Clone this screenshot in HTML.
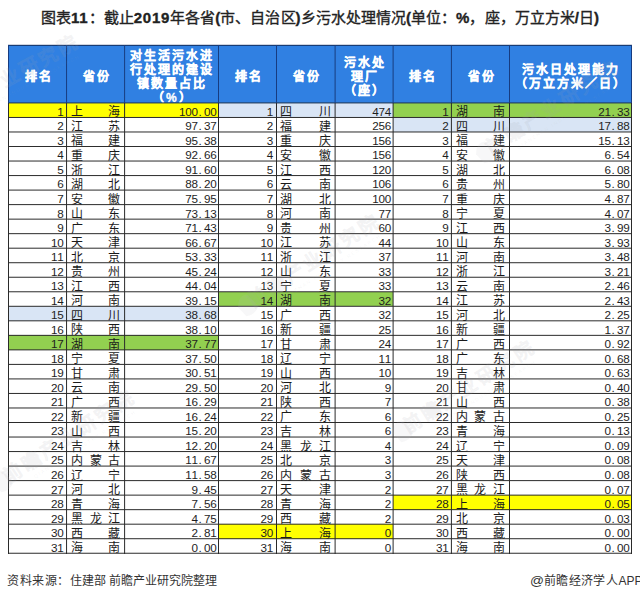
<!DOCTYPE html>
<html lang="zh-CN"><head><meta charset="utf-8">
<style>
html,body{margin:0;padding:0;background:#fff;width:640px;height:599px;overflow:hidden;position:relative;font-family:"Liberation Sans",sans-serif;}
.a{position:absolute;}
.hl{position:absolute;height:1px;background:#2e2e2e;}
.vl{position:absolute;width:1px;background:#2e2e2e;}
.t{position:absolute;font-size:12px;font-weight:400;line-height:14px;color:#1a1a1a;white-space:nowrap;}
.n{position:absolute;font-size:11.7px;line-height:12px;color:#1e1e1e;white-space:nowrap;text-align:right;}
.n i{font-style:normal;display:inline-block;width:6.25px;text-align:left;}
.n i.p{text-indent:0.8px;}
.h{position:absolute;font-size:12px;font-weight:bold;-webkit-text-stroke:0.3px #fff;color:#fff;line-height:14px;letter-spacing:2px;text-align:center;white-space:nowrap;}
</style></head><body>

<div class="a" style="left:0;top:8px;width:640px;text-align:center;font-size:15px;letter-spacing:0.04px;font-weight:500;-webkit-text-stroke:0.35px #222;color:#222;line-height:20px;white-space:nowrap;">图表<b style="letter-spacing:0.8px">11</b>：截止<b style="letter-spacing:0.8px">2019</b>年各省<b>(</b>市、自治区<b>)</b>乡污水处理情况<b>(</b>单位：<b>%</b>，座，万立方米<b>/</b>日<b>)</b></div>
<div class="a" style="left:8.6px;top:45.3px;width:622.8px;height:57.63000000000001px;background:#3080e2;"></div>
<div class="a" style="left:8.6px;top:102.93px;width:209.90px;height:14.53px;background:#ffff00;"></div>
<div class="a" style="left:8.6px;top:306.29px;width:209.90px;height:14.53px;background:#d9e5f5;"></div>
<div class="a" style="left:8.6px;top:335.35px;width:209.90px;height:14.53px;background:#92d050;"></div>
<div class="a" style="left:218.5px;top:102.93px;width:174.60px;height:14.53px;background:#d9e5f5;"></div>
<div class="a" style="left:218.5px;top:291.77px;width:174.60px;height:14.53px;background:#92d050;"></div>
<div class="a" style="left:218.5px;top:524.18px;width:174.60px;height:14.53px;background:#ffff00;"></div>
<div class="a" style="left:393.1px;top:102.93px;width:238.30px;height:14.53px;background:#92d050;"></div>
<div class="a" style="left:393.1px;top:117.46px;width:238.30px;height:14.53px;background:#d9e5f5;"></div>
<div class="a" style="left:393.1px;top:495.13px;width:238.30px;height:14.53px;background:#ffff00;"></div>
<div class="h" style="left:8.6px;width:58.300000000000004px;top:69.7px;text-indent:2px">排名</div>
<div class="h" style="left:66.9px;width:57.5px;top:69.7px;text-indent:2px">省份</div>
<div class="h" style="left:218.5px;width:58.0px;top:69.7px;text-indent:2px">排名</div>
<div class="h" style="left:276.5px;width:58.5px;top:69.7px;text-indent:2px">省份</div>
<div class="h" style="left:393.1px;width:58.799999999999955px;top:69.7px;text-indent:2px">排名</div>
<div class="h" style="left:451.9px;width:57.5px;top:69.7px;text-indent:2px">省份</div>
<div class="h" style="left:124.4px;width:94.1px;top:49px;text-indent:2px">对生活污水进</div>
<div class="h" style="left:124.4px;width:94.1px;top:63px;text-indent:2px">行处理的建设</div>
<div class="h" style="left:124.4px;width:94.1px;top:77px;text-indent:2px">镇数量占比</div>
<div class="h" style="left:124.4px;width:94.1px;top:91px;text-indent:2px">（%）</div>
<div class="h" style="left:335.0px;width:58.10000000000002px;top:55.5px;text-indent:2px">污水处</div>
<div class="h" style="left:335.0px;width:58.10000000000002px;top:69.5px;text-indent:2px">理厂</div>
<div class="h" style="left:335.0px;width:58.10000000000002px;top:83.5px;text-indent:2px">（座）</div>
<div class="h" style="left:509.4px;width:122.0px;top:63px;text-indent:2px">污水日处理能力</div>
<div class="h" style="left:509.4px;width:122.0px;top:77px;text-indent:2px">（万立方米／日）</div>
<div class="n" style="left:8.6px;width:54.8px;top:105.83px;"><i>1</i></div>
<div class="t" style="left:70.7px;top:105.43px;">上</div>
<div class="t" style="left:108.2px;top:105.43px;">海</div>
<div class="n" style="left:124.4px;width:92.1px;top:105.83px;"><i>1</i><i>0</i><i>0</i><i class="p">.</i><i>0</i><i>0</i></div>
<div class="n" style="left:8.6px;width:54.8px;top:120.36px;"><i>2</i></div>
<div class="t" style="left:70.7px;top:119.96px;">江</div>
<div class="t" style="left:108.2px;top:119.96px;">苏</div>
<div class="n" style="left:124.4px;width:92.1px;top:120.36px;"><i>9</i><i>7</i><i class="p">.</i><i>3</i><i>7</i></div>
<div class="n" style="left:8.6px;width:54.8px;top:134.88px;"><i>3</i></div>
<div class="t" style="left:70.7px;top:134.48px;">福</div>
<div class="t" style="left:108.2px;top:134.48px;">建</div>
<div class="n" style="left:124.4px;width:92.1px;top:134.88px;"><i>9</i><i>5</i><i class="p">.</i><i>3</i><i>8</i></div>
<div class="n" style="left:8.6px;width:54.8px;top:149.41px;"><i>4</i></div>
<div class="t" style="left:70.7px;top:149.01px;">重</div>
<div class="t" style="left:108.2px;top:149.01px;">庆</div>
<div class="n" style="left:124.4px;width:92.1px;top:149.41px;"><i>9</i><i>2</i><i class="p">.</i><i>6</i><i>6</i></div>
<div class="n" style="left:8.6px;width:54.8px;top:163.93px;"><i>5</i></div>
<div class="t" style="left:70.7px;top:163.53px;">浙</div>
<div class="t" style="left:108.2px;top:163.53px;">江</div>
<div class="n" style="left:124.4px;width:92.1px;top:163.93px;"><i>9</i><i>1</i><i class="p">.</i><i>6</i><i>0</i></div>
<div class="n" style="left:8.6px;width:54.8px;top:178.46px;"><i>6</i></div>
<div class="t" style="left:70.7px;top:178.06px;">湖</div>
<div class="t" style="left:108.2px;top:178.06px;">北</div>
<div class="n" style="left:124.4px;width:92.1px;top:178.46px;"><i>8</i><i>8</i><i class="p">.</i><i>2</i><i>0</i></div>
<div class="n" style="left:8.6px;width:54.8px;top:192.99px;"><i>7</i></div>
<div class="t" style="left:70.7px;top:192.59px;">安</div>
<div class="t" style="left:108.2px;top:192.59px;">徽</div>
<div class="n" style="left:124.4px;width:92.1px;top:192.99px;"><i>7</i><i>5</i><i class="p">.</i><i>9</i><i>5</i></div>
<div class="n" style="left:8.6px;width:54.8px;top:207.51px;"><i>8</i></div>
<div class="t" style="left:70.7px;top:207.11px;">山</div>
<div class="t" style="left:108.2px;top:207.11px;">东</div>
<div class="n" style="left:124.4px;width:92.1px;top:207.51px;"><i>7</i><i>3</i><i class="p">.</i><i>1</i><i>3</i></div>
<div class="n" style="left:8.6px;width:54.8px;top:222.04px;"><i>9</i></div>
<div class="t" style="left:70.7px;top:221.64px;">广</div>
<div class="t" style="left:108.2px;top:221.64px;">东</div>
<div class="n" style="left:124.4px;width:92.1px;top:222.04px;"><i>7</i><i>1</i><i class="p">.</i><i>4</i><i>3</i></div>
<div class="n" style="left:8.6px;width:54.8px;top:236.56px;"><i>1</i><i>0</i></div>
<div class="t" style="left:70.7px;top:236.16px;">天</div>
<div class="t" style="left:108.2px;top:236.16px;">津</div>
<div class="n" style="left:124.4px;width:92.1px;top:236.56px;"><i>6</i><i>6</i><i class="p">.</i><i>6</i><i>7</i></div>
<div class="n" style="left:8.6px;width:54.8px;top:251.09px;"><i>1</i><i>1</i></div>
<div class="t" style="left:70.7px;top:250.69px;">北</div>
<div class="t" style="left:108.2px;top:250.69px;">京</div>
<div class="n" style="left:124.4px;width:92.1px;top:251.09px;"><i>5</i><i>3</i><i class="p">.</i><i>3</i><i>3</i></div>
<div class="n" style="left:8.6px;width:54.8px;top:265.62px;"><i>1</i><i>2</i></div>
<div class="t" style="left:70.7px;top:265.22px;">贵</div>
<div class="t" style="left:108.2px;top:265.22px;">州</div>
<div class="n" style="left:124.4px;width:92.1px;top:265.62px;"><i>4</i><i>5</i><i class="p">.</i><i>2</i><i>4</i></div>
<div class="n" style="left:8.6px;width:54.8px;top:280.14px;"><i>1</i><i>3</i></div>
<div class="t" style="left:70.7px;top:279.74px;">江</div>
<div class="t" style="left:108.2px;top:279.74px;">西</div>
<div class="n" style="left:124.4px;width:92.1px;top:280.14px;"><i>4</i><i>4</i><i class="p">.</i><i>0</i><i>4</i></div>
<div class="n" style="left:8.6px;width:54.8px;top:294.67px;"><i>1</i><i>4</i></div>
<div class="t" style="left:70.7px;top:294.27px;">河</div>
<div class="t" style="left:108.2px;top:294.27px;">南</div>
<div class="n" style="left:124.4px;width:92.1px;top:294.67px;"><i>3</i><i>9</i><i class="p">.</i><i>1</i><i>5</i></div>
<div class="n" style="left:8.6px;width:54.8px;top:309.19px;"><i>1</i><i>5</i></div>
<div class="t" style="left:70.7px;top:308.79px;">四</div>
<div class="t" style="left:108.2px;top:308.79px;">川</div>
<div class="n" style="left:124.4px;width:92.1px;top:309.19px;"><i>3</i><i>8</i><i class="p">.</i><i>6</i><i>8</i></div>
<div class="n" style="left:8.6px;width:54.8px;top:323.72px;"><i>1</i><i>6</i></div>
<div class="t" style="left:70.7px;top:323.32px;">陕</div>
<div class="t" style="left:108.2px;top:323.32px;">西</div>
<div class="n" style="left:124.4px;width:92.1px;top:323.72px;"><i>3</i><i>8</i><i class="p">.</i><i>1</i><i>0</i></div>
<div class="n" style="left:8.6px;width:54.8px;top:338.25px;"><i>1</i><i>7</i></div>
<div class="t" style="left:70.7px;top:337.85px;">湖</div>
<div class="t" style="left:108.2px;top:337.85px;">南</div>
<div class="n" style="left:124.4px;width:92.1px;top:338.25px;"><i>3</i><i>7</i><i class="p">.</i><i>7</i><i>7</i></div>
<div class="n" style="left:8.6px;width:54.8px;top:352.77px;"><i>1</i><i>8</i></div>
<div class="t" style="left:70.7px;top:352.37px;">宁</div>
<div class="t" style="left:108.2px;top:352.37px;">夏</div>
<div class="n" style="left:124.4px;width:92.1px;top:352.77px;"><i>3</i><i>7</i><i class="p">.</i><i>5</i><i>0</i></div>
<div class="n" style="left:8.6px;width:54.8px;top:367.30px;"><i>1</i><i>9</i></div>
<div class="t" style="left:70.7px;top:366.90px;">甘</div>
<div class="t" style="left:108.2px;top:366.90px;">肃</div>
<div class="n" style="left:124.4px;width:92.1px;top:367.30px;"><i>3</i><i>0</i><i class="p">.</i><i>5</i><i>1</i></div>
<div class="n" style="left:8.6px;width:54.8px;top:381.82px;"><i>2</i><i>0</i></div>
<div class="t" style="left:70.7px;top:381.42px;">云</div>
<div class="t" style="left:108.2px;top:381.42px;">南</div>
<div class="n" style="left:124.4px;width:92.1px;top:381.82px;"><i>2</i><i>9</i><i class="p">.</i><i>5</i><i>0</i></div>
<div class="n" style="left:8.6px;width:54.8px;top:396.35px;"><i>2</i><i>1</i></div>
<div class="t" style="left:70.7px;top:395.95px;">广</div>
<div class="t" style="left:108.2px;top:395.95px;">西</div>
<div class="n" style="left:124.4px;width:92.1px;top:396.35px;"><i>1</i><i>6</i><i class="p">.</i><i>2</i><i>9</i></div>
<div class="n" style="left:8.6px;width:54.8px;top:410.88px;"><i>2</i><i>2</i></div>
<div class="t" style="left:70.7px;top:410.48px;">新</div>
<div class="t" style="left:108.2px;top:410.48px;">疆</div>
<div class="n" style="left:124.4px;width:92.1px;top:410.88px;"><i>1</i><i>6</i><i class="p">.</i><i>2</i><i>4</i></div>
<div class="n" style="left:8.6px;width:54.8px;top:425.40px;"><i>2</i><i>3</i></div>
<div class="t" style="left:70.7px;top:425.00px;">山</div>
<div class="t" style="left:108.2px;top:425.00px;">西</div>
<div class="n" style="left:124.4px;width:92.1px;top:425.40px;"><i>1</i><i>5</i><i class="p">.</i><i>2</i><i>0</i></div>
<div class="n" style="left:8.6px;width:54.8px;top:439.93px;"><i>2</i><i>4</i></div>
<div class="t" style="left:70.7px;top:439.53px;">吉</div>
<div class="t" style="left:108.2px;top:439.53px;">林</div>
<div class="n" style="left:124.4px;width:92.1px;top:439.93px;"><i>1</i><i>2</i><i class="p">.</i><i>2</i><i>0</i></div>
<div class="n" style="left:8.6px;width:54.8px;top:454.45px;"><i>2</i><i>5</i></div>
<div class="t" style="left:70.7px;top:454.05px;">内</div>
<div class="t" style="left:89.5px;top:454.05px;">蒙</div>
<div class="t" style="left:108.2px;top:454.05px;">古</div>
<div class="n" style="left:124.4px;width:92.1px;top:454.45px;"><i>1</i><i>1</i><i class="p">.</i><i>6</i><i>7</i></div>
<div class="n" style="left:8.6px;width:54.8px;top:468.98px;"><i>2</i><i>6</i></div>
<div class="t" style="left:70.7px;top:468.58px;">辽</div>
<div class="t" style="left:108.2px;top:468.58px;">宁</div>
<div class="n" style="left:124.4px;width:92.1px;top:468.98px;"><i>1</i><i>1</i><i class="p">.</i><i>5</i><i>8</i></div>
<div class="n" style="left:8.6px;width:54.8px;top:483.51px;"><i>2</i><i>7</i></div>
<div class="t" style="left:70.7px;top:483.11px;">河</div>
<div class="t" style="left:108.2px;top:483.11px;">北</div>
<div class="n" style="left:124.4px;width:92.1px;top:483.51px;"><i>9</i><i class="p">.</i><i>4</i><i>5</i></div>
<div class="n" style="left:8.6px;width:54.8px;top:498.03px;"><i>2</i><i>8</i></div>
<div class="t" style="left:70.7px;top:497.63px;">青</div>
<div class="t" style="left:108.2px;top:497.63px;">海</div>
<div class="n" style="left:124.4px;width:92.1px;top:498.03px;"><i>7</i><i class="p">.</i><i>5</i><i>6</i></div>
<div class="n" style="left:8.6px;width:54.8px;top:512.56px;"><i>2</i><i>9</i></div>
<div class="t" style="left:70.7px;top:512.16px;">黑</div>
<div class="t" style="left:89.5px;top:512.16px;">龙</div>
<div class="t" style="left:108.2px;top:512.16px;">江</div>
<div class="n" style="left:124.4px;width:92.1px;top:512.56px;"><i>4</i><i class="p">.</i><i>7</i><i>5</i></div>
<div class="n" style="left:8.6px;width:54.8px;top:527.08px;"><i>3</i><i>0</i></div>
<div class="t" style="left:70.7px;top:526.68px;">西</div>
<div class="t" style="left:108.2px;top:526.68px;">藏</div>
<div class="n" style="left:124.4px;width:92.1px;top:527.08px;"><i>2</i><i class="p">.</i><i>8</i><i>1</i></div>
<div class="n" style="left:8.6px;width:54.8px;top:541.61px;"><i>3</i><i>1</i></div>
<div class="t" style="left:70.7px;top:541.21px;">海</div>
<div class="t" style="left:108.2px;top:541.21px;">南</div>
<div class="n" style="left:124.4px;width:92.1px;top:541.61px;"><i>0</i><i class="p">.</i><i>0</i><i>0</i></div>
<div class="n" style="left:218.5px;width:54.5px;top:105.83px;"><i>1</i></div>
<div class="t" style="left:280.3px;top:105.43px;">四</div>
<div class="t" style="left:318.8px;top:105.43px;">川</div>
<div class="n" style="left:335.0px;width:56.1px;top:105.83px;"><i>4</i><i>7</i><i>4</i></div>
<div class="n" style="left:218.5px;width:54.5px;top:120.36px;"><i>2</i></div>
<div class="t" style="left:280.3px;top:119.96px;">福</div>
<div class="t" style="left:318.8px;top:119.96px;">建</div>
<div class="n" style="left:335.0px;width:56.1px;top:120.36px;"><i>2</i><i>5</i><i>6</i></div>
<div class="n" style="left:218.5px;width:54.5px;top:134.88px;"><i>3</i></div>
<div class="t" style="left:280.3px;top:134.48px;">重</div>
<div class="t" style="left:318.8px;top:134.48px;">庆</div>
<div class="n" style="left:335.0px;width:56.1px;top:134.88px;"><i>1</i><i>5</i><i>6</i></div>
<div class="n" style="left:218.5px;width:54.5px;top:149.41px;"><i>4</i></div>
<div class="t" style="left:280.3px;top:149.01px;">安</div>
<div class="t" style="left:318.8px;top:149.01px;">徽</div>
<div class="n" style="left:335.0px;width:56.1px;top:149.41px;"><i>1</i><i>5</i><i>6</i></div>
<div class="n" style="left:218.5px;width:54.5px;top:163.93px;"><i>5</i></div>
<div class="t" style="left:280.3px;top:163.53px;">江</div>
<div class="t" style="left:318.8px;top:163.53px;">西</div>
<div class="n" style="left:335.0px;width:56.1px;top:163.93px;"><i>1</i><i>2</i><i>0</i></div>
<div class="n" style="left:218.5px;width:54.5px;top:178.46px;"><i>6</i></div>
<div class="t" style="left:280.3px;top:178.06px;">云</div>
<div class="t" style="left:318.8px;top:178.06px;">南</div>
<div class="n" style="left:335.0px;width:56.1px;top:178.46px;"><i>1</i><i>0</i><i>6</i></div>
<div class="n" style="left:218.5px;width:54.5px;top:192.99px;"><i>7</i></div>
<div class="t" style="left:280.3px;top:192.59px;">湖</div>
<div class="t" style="left:318.8px;top:192.59px;">北</div>
<div class="n" style="left:335.0px;width:56.1px;top:192.99px;"><i>1</i><i>0</i><i>0</i></div>
<div class="n" style="left:218.5px;width:54.5px;top:207.51px;"><i>8</i></div>
<div class="t" style="left:280.3px;top:207.11px;">河</div>
<div class="t" style="left:318.8px;top:207.11px;">南</div>
<div class="n" style="left:335.0px;width:56.1px;top:207.51px;"><i>7</i><i>7</i></div>
<div class="n" style="left:218.5px;width:54.5px;top:222.04px;"><i>9</i></div>
<div class="t" style="left:280.3px;top:221.64px;">贵</div>
<div class="t" style="left:318.8px;top:221.64px;">州</div>
<div class="n" style="left:335.0px;width:56.1px;top:222.04px;"><i>6</i><i>0</i></div>
<div class="n" style="left:218.5px;width:54.5px;top:236.56px;"><i>1</i><i>0</i></div>
<div class="t" style="left:280.3px;top:236.16px;">江</div>
<div class="t" style="left:318.8px;top:236.16px;">苏</div>
<div class="n" style="left:335.0px;width:56.1px;top:236.56px;"><i>4</i><i>4</i></div>
<div class="n" style="left:218.5px;width:54.5px;top:251.09px;"><i>1</i><i>1</i></div>
<div class="t" style="left:280.3px;top:250.69px;">浙</div>
<div class="t" style="left:318.8px;top:250.69px;">江</div>
<div class="n" style="left:335.0px;width:56.1px;top:251.09px;"><i>3</i><i>7</i></div>
<div class="n" style="left:218.5px;width:54.5px;top:265.62px;"><i>1</i><i>2</i></div>
<div class="t" style="left:280.3px;top:265.22px;">山</div>
<div class="t" style="left:318.8px;top:265.22px;">东</div>
<div class="n" style="left:335.0px;width:56.1px;top:265.62px;"><i>3</i><i>3</i></div>
<div class="n" style="left:218.5px;width:54.5px;top:280.14px;"><i>1</i><i>3</i></div>
<div class="t" style="left:280.3px;top:279.74px;">宁</div>
<div class="t" style="left:318.8px;top:279.74px;">夏</div>
<div class="n" style="left:335.0px;width:56.1px;top:280.14px;"><i>3</i><i>3</i></div>
<div class="n" style="left:218.5px;width:54.5px;top:294.67px;"><i>1</i><i>4</i></div>
<div class="t" style="left:280.3px;top:294.27px;">湖</div>
<div class="t" style="left:318.8px;top:294.27px;">南</div>
<div class="n" style="left:335.0px;width:56.1px;top:294.67px;"><i>3</i><i>2</i></div>
<div class="n" style="left:218.5px;width:54.5px;top:309.19px;"><i>1</i><i>5</i></div>
<div class="t" style="left:280.3px;top:308.79px;">广</div>
<div class="t" style="left:318.8px;top:308.79px;">西</div>
<div class="n" style="left:335.0px;width:56.1px;top:309.19px;"><i>3</i><i>2</i></div>
<div class="n" style="left:218.5px;width:54.5px;top:323.72px;"><i>1</i><i>6</i></div>
<div class="t" style="left:280.3px;top:323.32px;">新</div>
<div class="t" style="left:318.8px;top:323.32px;">疆</div>
<div class="n" style="left:335.0px;width:56.1px;top:323.72px;"><i>2</i><i>5</i></div>
<div class="n" style="left:218.5px;width:54.5px;top:338.25px;"><i>1</i><i>7</i></div>
<div class="t" style="left:280.3px;top:337.85px;">甘</div>
<div class="t" style="left:318.8px;top:337.85px;">肃</div>
<div class="n" style="left:335.0px;width:56.1px;top:338.25px;"><i>2</i><i>4</i></div>
<div class="n" style="left:218.5px;width:54.5px;top:352.77px;"><i>1</i><i>8</i></div>
<div class="t" style="left:280.3px;top:352.37px;">辽</div>
<div class="t" style="left:318.8px;top:352.37px;">宁</div>
<div class="n" style="left:335.0px;width:56.1px;top:352.77px;"><i>1</i><i>1</i></div>
<div class="n" style="left:218.5px;width:54.5px;top:367.30px;"><i>1</i><i>9</i></div>
<div class="t" style="left:280.3px;top:366.90px;">山</div>
<div class="t" style="left:318.8px;top:366.90px;">西</div>
<div class="n" style="left:335.0px;width:56.1px;top:367.30px;"><i>1</i><i>0</i></div>
<div class="n" style="left:218.5px;width:54.5px;top:381.82px;"><i>2</i><i>0</i></div>
<div class="t" style="left:280.3px;top:381.42px;">河</div>
<div class="t" style="left:318.8px;top:381.42px;">北</div>
<div class="n" style="left:335.0px;width:56.1px;top:381.82px;"><i>9</i></div>
<div class="n" style="left:218.5px;width:54.5px;top:396.35px;"><i>2</i><i>1</i></div>
<div class="t" style="left:280.3px;top:395.95px;">陕</div>
<div class="t" style="left:318.8px;top:395.95px;">西</div>
<div class="n" style="left:335.0px;width:56.1px;top:396.35px;"><i>7</i></div>
<div class="n" style="left:218.5px;width:54.5px;top:410.88px;"><i>2</i><i>2</i></div>
<div class="t" style="left:280.3px;top:410.48px;">广</div>
<div class="t" style="left:318.8px;top:410.48px;">东</div>
<div class="n" style="left:335.0px;width:56.1px;top:410.88px;"><i>6</i></div>
<div class="n" style="left:218.5px;width:54.5px;top:425.40px;"><i>2</i><i>3</i></div>
<div class="t" style="left:280.3px;top:425.00px;">吉</div>
<div class="t" style="left:318.8px;top:425.00px;">林</div>
<div class="n" style="left:335.0px;width:56.1px;top:425.40px;"><i>6</i></div>
<div class="n" style="left:218.5px;width:54.5px;top:439.93px;"><i>2</i><i>4</i></div>
<div class="t" style="left:280.3px;top:439.53px;">黑</div>
<div class="t" style="left:299.6px;top:439.53px;">龙</div>
<div class="t" style="left:318.8px;top:439.53px;">江</div>
<div class="n" style="left:335.0px;width:56.1px;top:439.93px;"><i>4</i></div>
<div class="n" style="left:218.5px;width:54.5px;top:454.45px;"><i>2</i><i>5</i></div>
<div class="t" style="left:280.3px;top:454.05px;">北</div>
<div class="t" style="left:318.8px;top:454.05px;">京</div>
<div class="n" style="left:335.0px;width:56.1px;top:454.45px;"><i>3</i></div>
<div class="n" style="left:218.5px;width:54.5px;top:468.98px;"><i>2</i><i>6</i></div>
<div class="t" style="left:280.3px;top:468.58px;">内</div>
<div class="t" style="left:299.6px;top:468.58px;">蒙</div>
<div class="t" style="left:318.8px;top:468.58px;">古</div>
<div class="n" style="left:335.0px;width:56.1px;top:468.98px;"><i>3</i></div>
<div class="n" style="left:218.5px;width:54.5px;top:483.51px;"><i>2</i><i>7</i></div>
<div class="t" style="left:280.3px;top:483.11px;">天</div>
<div class="t" style="left:318.8px;top:483.11px;">津</div>
<div class="n" style="left:335.0px;width:56.1px;top:483.51px;"><i>2</i></div>
<div class="n" style="left:218.5px;width:54.5px;top:498.03px;"><i>2</i><i>8</i></div>
<div class="t" style="left:280.3px;top:497.63px;">青</div>
<div class="t" style="left:318.8px;top:497.63px;">海</div>
<div class="n" style="left:335.0px;width:56.1px;top:498.03px;"><i>2</i></div>
<div class="n" style="left:218.5px;width:54.5px;top:512.56px;"><i>2</i><i>9</i></div>
<div class="t" style="left:280.3px;top:512.16px;">西</div>
<div class="t" style="left:318.8px;top:512.16px;">藏</div>
<div class="n" style="left:335.0px;width:56.1px;top:512.56px;"><i>2</i></div>
<div class="n" style="left:218.5px;width:54.5px;top:527.08px;"><i>3</i><i>0</i></div>
<div class="t" style="left:280.3px;top:526.68px;">上</div>
<div class="t" style="left:318.8px;top:526.68px;">海</div>
<div class="n" style="left:335.0px;width:56.1px;top:527.08px;"><i>0</i></div>
<div class="n" style="left:218.5px;width:54.5px;top:541.61px;"><i>3</i><i>1</i></div>
<div class="t" style="left:280.3px;top:541.21px;">海</div>
<div class="t" style="left:318.8px;top:541.21px;">南</div>
<div class="n" style="left:335.0px;width:56.1px;top:541.61px;"><i>0</i></div>
<div class="n" style="left:393.1px;width:55.3px;top:105.83px;"><i>1</i></div>
<div class="t" style="left:455.7px;top:105.43px;">湖</div>
<div class="t" style="left:493.2px;top:105.43px;">南</div>
<div class="n" style="left:509.4px;width:120.0px;top:105.83px;"><i>2</i><i>1</i><i class="p">.</i><i>3</i><i>3</i></div>
<div class="n" style="left:393.1px;width:55.3px;top:120.36px;"><i>2</i></div>
<div class="t" style="left:455.7px;top:119.96px;">四</div>
<div class="t" style="left:493.2px;top:119.96px;">川</div>
<div class="n" style="left:509.4px;width:120.0px;top:120.36px;"><i>1</i><i>7</i><i class="p">.</i><i>8</i><i>8</i></div>
<div class="n" style="left:393.1px;width:55.3px;top:134.88px;"><i>3</i></div>
<div class="t" style="left:455.7px;top:134.48px;">福</div>
<div class="t" style="left:493.2px;top:134.48px;">建</div>
<div class="n" style="left:509.4px;width:120.0px;top:134.88px;"><i>1</i><i>5</i><i class="p">.</i><i>1</i><i>3</i></div>
<div class="n" style="left:393.1px;width:55.3px;top:149.41px;"><i>4</i></div>
<div class="t" style="left:455.7px;top:149.01px;">安</div>
<div class="t" style="left:493.2px;top:149.01px;">徽</div>
<div class="n" style="left:509.4px;width:120.0px;top:149.41px;"><i>6</i><i class="p">.</i><i>5</i><i>4</i></div>
<div class="n" style="left:393.1px;width:55.3px;top:163.93px;"><i>5</i></div>
<div class="t" style="left:455.7px;top:163.53px;">湖</div>
<div class="t" style="left:493.2px;top:163.53px;">北</div>
<div class="n" style="left:509.4px;width:120.0px;top:163.93px;"><i>6</i><i class="p">.</i><i>0</i><i>8</i></div>
<div class="n" style="left:393.1px;width:55.3px;top:178.46px;"><i>6</i></div>
<div class="t" style="left:455.7px;top:178.06px;">贵</div>
<div class="t" style="left:493.2px;top:178.06px;">州</div>
<div class="n" style="left:509.4px;width:120.0px;top:178.46px;"><i>5</i><i class="p">.</i><i>8</i><i>0</i></div>
<div class="n" style="left:393.1px;width:55.3px;top:192.99px;"><i>7</i></div>
<div class="t" style="left:455.7px;top:192.59px;">重</div>
<div class="t" style="left:493.2px;top:192.59px;">庆</div>
<div class="n" style="left:509.4px;width:120.0px;top:192.99px;"><i>4</i><i class="p">.</i><i>8</i><i>7</i></div>
<div class="n" style="left:393.1px;width:55.3px;top:207.51px;"><i>8</i></div>
<div class="t" style="left:455.7px;top:207.11px;">宁</div>
<div class="t" style="left:493.2px;top:207.11px;">夏</div>
<div class="n" style="left:509.4px;width:120.0px;top:207.51px;"><i>4</i><i class="p">.</i><i>0</i><i>7</i></div>
<div class="n" style="left:393.1px;width:55.3px;top:222.04px;"><i>9</i></div>
<div class="t" style="left:455.7px;top:221.64px;">江</div>
<div class="t" style="left:493.2px;top:221.64px;">西</div>
<div class="n" style="left:509.4px;width:120.0px;top:222.04px;"><i>3</i><i class="p">.</i><i>9</i><i>9</i></div>
<div class="n" style="left:393.1px;width:55.3px;top:236.56px;"><i>1</i><i>0</i></div>
<div class="t" style="left:455.7px;top:236.16px;">山</div>
<div class="t" style="left:493.2px;top:236.16px;">东</div>
<div class="n" style="left:509.4px;width:120.0px;top:236.56px;"><i>3</i><i class="p">.</i><i>9</i><i>3</i></div>
<div class="n" style="left:393.1px;width:55.3px;top:251.09px;"><i>1</i><i>1</i></div>
<div class="t" style="left:455.7px;top:250.69px;">河</div>
<div class="t" style="left:493.2px;top:250.69px;">南</div>
<div class="n" style="left:509.4px;width:120.0px;top:251.09px;"><i>3</i><i class="p">.</i><i>4</i><i>8</i></div>
<div class="n" style="left:393.1px;width:55.3px;top:265.62px;"><i>1</i><i>2</i></div>
<div class="t" style="left:455.7px;top:265.22px;">浙</div>
<div class="t" style="left:493.2px;top:265.22px;">江</div>
<div class="n" style="left:509.4px;width:120.0px;top:265.62px;"><i>3</i><i class="p">.</i><i>2</i><i>1</i></div>
<div class="n" style="left:393.1px;width:55.3px;top:280.14px;"><i>1</i><i>3</i></div>
<div class="t" style="left:455.7px;top:279.74px;">云</div>
<div class="t" style="left:493.2px;top:279.74px;">南</div>
<div class="n" style="left:509.4px;width:120.0px;top:280.14px;"><i>2</i><i class="p">.</i><i>4</i><i>6</i></div>
<div class="n" style="left:393.1px;width:55.3px;top:294.67px;"><i>1</i><i>4</i></div>
<div class="t" style="left:455.7px;top:294.27px;">江</div>
<div class="t" style="left:493.2px;top:294.27px;">苏</div>
<div class="n" style="left:509.4px;width:120.0px;top:294.67px;"><i>2</i><i class="p">.</i><i>4</i><i>3</i></div>
<div class="n" style="left:393.1px;width:55.3px;top:309.19px;"><i>1</i><i>5</i></div>
<div class="t" style="left:455.7px;top:308.79px;">河</div>
<div class="t" style="left:493.2px;top:308.79px;">北</div>
<div class="n" style="left:509.4px;width:120.0px;top:309.19px;"><i>2</i><i class="p">.</i><i>2</i><i>5</i></div>
<div class="n" style="left:393.1px;width:55.3px;top:323.72px;"><i>1</i><i>6</i></div>
<div class="t" style="left:455.7px;top:323.32px;">新</div>
<div class="t" style="left:493.2px;top:323.32px;">疆</div>
<div class="n" style="left:509.4px;width:120.0px;top:323.72px;"><i>1</i><i class="p">.</i><i>3</i><i>7</i></div>
<div class="n" style="left:393.1px;width:55.3px;top:338.25px;"><i>1</i><i>7</i></div>
<div class="t" style="left:455.7px;top:337.85px;">广</div>
<div class="t" style="left:493.2px;top:337.85px;">西</div>
<div class="n" style="left:509.4px;width:120.0px;top:338.25px;"><i>0</i><i class="p">.</i><i>9</i><i>2</i></div>
<div class="n" style="left:393.1px;width:55.3px;top:352.77px;"><i>1</i><i>8</i></div>
<div class="t" style="left:455.7px;top:352.37px;">广</div>
<div class="t" style="left:493.2px;top:352.37px;">东</div>
<div class="n" style="left:509.4px;width:120.0px;top:352.77px;"><i>0</i><i class="p">.</i><i>6</i><i>8</i></div>
<div class="n" style="left:393.1px;width:55.3px;top:367.30px;"><i>1</i><i>9</i></div>
<div class="t" style="left:455.7px;top:366.90px;">吉</div>
<div class="t" style="left:493.2px;top:366.90px;">林</div>
<div class="n" style="left:509.4px;width:120.0px;top:367.30px;"><i>0</i><i class="p">.</i><i>6</i><i>3</i></div>
<div class="n" style="left:393.1px;width:55.3px;top:381.82px;"><i>2</i><i>0</i></div>
<div class="t" style="left:455.7px;top:381.42px;">甘</div>
<div class="t" style="left:493.2px;top:381.42px;">肃</div>
<div class="n" style="left:509.4px;width:120.0px;top:381.82px;"><i>0</i><i class="p">.</i><i>4</i><i>0</i></div>
<div class="n" style="left:393.1px;width:55.3px;top:396.35px;"><i>2</i><i>1</i></div>
<div class="t" style="left:455.7px;top:395.95px;">山</div>
<div class="t" style="left:493.2px;top:395.95px;">西</div>
<div class="n" style="left:509.4px;width:120.0px;top:396.35px;"><i>0</i><i class="p">.</i><i>3</i><i>8</i></div>
<div class="n" style="left:393.1px;width:55.3px;top:410.88px;"><i>2</i><i>2</i></div>
<div class="t" style="left:455.7px;top:410.48px;">内</div>
<div class="t" style="left:474.4px;top:410.48px;">蒙</div>
<div class="t" style="left:493.2px;top:410.48px;">古</div>
<div class="n" style="left:509.4px;width:120.0px;top:410.88px;"><i>0</i><i class="p">.</i><i>2</i><i>5</i></div>
<div class="n" style="left:393.1px;width:55.3px;top:425.40px;"><i>2</i><i>3</i></div>
<div class="t" style="left:455.7px;top:425.00px;">青</div>
<div class="t" style="left:493.2px;top:425.00px;">海</div>
<div class="n" style="left:509.4px;width:120.0px;top:425.40px;"><i>0</i><i class="p">.</i><i>1</i><i>3</i></div>
<div class="n" style="left:393.1px;width:55.3px;top:439.93px;"><i>2</i><i>4</i></div>
<div class="t" style="left:455.7px;top:439.53px;">辽</div>
<div class="t" style="left:493.2px;top:439.53px;">宁</div>
<div class="n" style="left:509.4px;width:120.0px;top:439.93px;"><i>0</i><i class="p">.</i><i>0</i><i>9</i></div>
<div class="n" style="left:393.1px;width:55.3px;top:454.45px;"><i>2</i><i>5</i></div>
<div class="t" style="left:455.7px;top:454.05px;">天</div>
<div class="t" style="left:493.2px;top:454.05px;">津</div>
<div class="n" style="left:509.4px;width:120.0px;top:454.45px;"><i>0</i><i class="p">.</i><i>0</i><i>8</i></div>
<div class="n" style="left:393.1px;width:55.3px;top:468.98px;"><i>2</i><i>6</i></div>
<div class="t" style="left:455.7px;top:468.58px;">陕</div>
<div class="t" style="left:493.2px;top:468.58px;">西</div>
<div class="n" style="left:509.4px;width:120.0px;top:468.98px;"><i>0</i><i class="p">.</i><i>0</i><i>8</i></div>
<div class="n" style="left:393.1px;width:55.3px;top:483.51px;"><i>2</i><i>7</i></div>
<div class="t" style="left:455.7px;top:483.11px;">黑</div>
<div class="t" style="left:474.4px;top:483.11px;">龙</div>
<div class="t" style="left:493.2px;top:483.11px;">江</div>
<div class="n" style="left:509.4px;width:120.0px;top:483.51px;"><i>0</i><i class="p">.</i><i>0</i><i>7</i></div>
<div class="n" style="left:393.1px;width:55.3px;top:498.03px;"><i>2</i><i>8</i></div>
<div class="t" style="left:455.7px;top:497.63px;">上</div>
<div class="t" style="left:493.2px;top:497.63px;">海</div>
<div class="n" style="left:509.4px;width:120.0px;top:498.03px;"><i>0</i><i class="p">.</i><i>0</i><i>5</i></div>
<div class="n" style="left:393.1px;width:55.3px;top:512.56px;"><i>2</i><i>9</i></div>
<div class="t" style="left:455.7px;top:512.16px;">北</div>
<div class="t" style="left:493.2px;top:512.16px;">京</div>
<div class="n" style="left:509.4px;width:120.0px;top:512.56px;"><i>0</i><i class="p">.</i><i>0</i><i>3</i></div>
<div class="n" style="left:393.1px;width:55.3px;top:527.08px;"><i>3</i><i>0</i></div>
<div class="t" style="left:455.7px;top:526.68px;">西</div>
<div class="t" style="left:493.2px;top:526.68px;">藏</div>
<div class="n" style="left:509.4px;width:120.0px;top:527.08px;"><i>0</i><i class="p">.</i><i>0</i><i>0</i></div>
<div class="n" style="left:393.1px;width:55.3px;top:541.61px;"><i>3</i><i>1</i></div>
<div class="t" style="left:455.7px;top:541.21px;">海</div>
<div class="t" style="left:493.2px;top:541.21px;">南</div>
<div class="n" style="left:509.4px;width:120.0px;top:541.61px;"><i>0</i><i class="p">.</i><i>0</i><i>0</i></div>
<div class="hl" style="left:8px;width:624px;top:102px;background:#1f3550;opacity:0.57"></div>
<div class="hl" style="left:8px;width:624px;top:103px;background:#1f3550;opacity:0.43"></div>
<div class="hl" style="left:8px;width:624px;top:116px;background:#2a2a2a;opacity:0.04"></div>
<div class="hl" style="left:8px;width:624px;top:117px;background:#2a2a2a;opacity:0.96"></div>
<div class="hl" style="left:8px;width:624px;top:131px;background:#2a2a2a;opacity:0.52"></div>
<div class="hl" style="left:8px;width:624px;top:132px;background:#2a2a2a;opacity:0.48"></div>
<div class="hl" style="left:8px;width:624px;top:146px;background:#2a2a2a;opacity:0.99"></div>
<div class="hl" style="left:8px;width:624px;top:160px;background:#2a2a2a;opacity:0.47"></div>
<div class="hl" style="left:8px;width:624px;top:161px;background:#2a2a2a;opacity:0.53"></div>
<div class="hl" style="left:8px;width:624px;top:175px;background:#2a2a2a;opacity:0.94"></div>
<div class="hl" style="left:8px;width:624px;top:176px;background:#2a2a2a;opacity:0.06"></div>
<div class="hl" style="left:8px;width:624px;top:189px;background:#2a2a2a;opacity:0.41"></div>
<div class="hl" style="left:8px;width:624px;top:190px;background:#2a2a2a;opacity:0.59"></div>
<div class="hl" style="left:8px;width:624px;top:204px;background:#2a2a2a;opacity:0.89"></div>
<div class="hl" style="left:8px;width:624px;top:205px;background:#2a2a2a;opacity:0.11"></div>
<div class="hl" style="left:8px;width:624px;top:218px;background:#2a2a2a;opacity:0.36"></div>
<div class="hl" style="left:8px;width:624px;top:219px;background:#2a2a2a;opacity:0.64"></div>
<div class="hl" style="left:8px;width:624px;top:233px;background:#2a2a2a;opacity:0.84"></div>
<div class="hl" style="left:8px;width:624px;top:234px;background:#2a2a2a;opacity:0.16"></div>
<div class="hl" style="left:8px;width:624px;top:247px;background:#2a2a2a;opacity:0.31"></div>
<div class="hl" style="left:8px;width:624px;top:248px;background:#2a2a2a;opacity:0.69"></div>
<div class="hl" style="left:8px;width:624px;top:262px;background:#2a2a2a;opacity:0.78"></div>
<div class="hl" style="left:8px;width:624px;top:263px;background:#2a2a2a;opacity:0.22"></div>
<div class="hl" style="left:8px;width:624px;top:276px;background:#2a2a2a;opacity:0.26"></div>
<div class="hl" style="left:8px;width:624px;top:277px;background:#2a2a2a;opacity:0.74"></div>
<div class="hl" style="left:8px;width:624px;top:291px;background:#2a2a2a;opacity:0.73"></div>
<div class="hl" style="left:8px;width:624px;top:292px;background:#2a2a2a;opacity:0.27"></div>
<div class="hl" style="left:8px;width:624px;top:305px;background:#2a2a2a;opacity:0.21"></div>
<div class="hl" style="left:8px;width:624px;top:306px;background:#2a2a2a;opacity:0.79"></div>
<div class="hl" style="left:8px;width:624px;top:320px;background:#2a2a2a;opacity:0.68"></div>
<div class="hl" style="left:8px;width:624px;top:321px;background:#2a2a2a;opacity:0.32"></div>
<div class="hl" style="left:8px;width:624px;top:334px;background:#2a2a2a;opacity:0.15"></div>
<div class="hl" style="left:8px;width:624px;top:335px;background:#2a2a2a;opacity:0.85"></div>
<div class="hl" style="left:8px;width:624px;top:349px;background:#2a2a2a;opacity:0.63"></div>
<div class="hl" style="left:8px;width:624px;top:350px;background:#2a2a2a;opacity:0.37"></div>
<div class="hl" style="left:8px;width:624px;top:363px;background:#2a2a2a;opacity:0.10"></div>
<div class="hl" style="left:8px;width:624px;top:364px;background:#2a2a2a;opacity:0.90"></div>
<div class="hl" style="left:8px;width:624px;top:378px;background:#2a2a2a;opacity:0.58"></div>
<div class="hl" style="left:8px;width:624px;top:379px;background:#2a2a2a;opacity:0.42"></div>
<div class="hl" style="left:8px;width:624px;top:392px;background:#2a2a2a;opacity:0.05"></div>
<div class="hl" style="left:8px;width:624px;top:393px;background:#2a2a2a;opacity:0.95"></div>
<div class="hl" style="left:8px;width:624px;top:407px;background:#2a2a2a;opacity:0.52"></div>
<div class="hl" style="left:8px;width:624px;top:408px;background:#2a2a2a;opacity:0.48"></div>
<div class="hl" style="left:8px;width:624px;top:422px;background:#2a2a2a;opacity:1.00"></div>
<div class="hl" style="left:8px;width:624px;top:436px;background:#2a2a2a;opacity:0.47"></div>
<div class="hl" style="left:8px;width:624px;top:437px;background:#2a2a2a;opacity:0.53"></div>
<div class="hl" style="left:8px;width:624px;top:451px;background:#2a2a2a;opacity:0.95"></div>
<div class="hl" style="left:8px;width:624px;top:452px;background:#2a2a2a;opacity:0.05"></div>
<div class="hl" style="left:8px;width:624px;top:465px;background:#2a2a2a;opacity:0.42"></div>
<div class="hl" style="left:8px;width:624px;top:466px;background:#2a2a2a;opacity:0.58"></div>
<div class="hl" style="left:8px;width:624px;top:480px;background:#2a2a2a;opacity:0.89"></div>
<div class="hl" style="left:8px;width:624px;top:481px;background:#2a2a2a;opacity:0.11"></div>
<div class="hl" style="left:8px;width:624px;top:494px;background:#2a2a2a;opacity:0.37"></div>
<div class="hl" style="left:8px;width:624px;top:495px;background:#2a2a2a;opacity:0.63"></div>
<div class="hl" style="left:8px;width:624px;top:509px;background:#2a2a2a;opacity:0.84"></div>
<div class="hl" style="left:8px;width:624px;top:510px;background:#2a2a2a;opacity:0.16"></div>
<div class="hl" style="left:8px;width:624px;top:523px;background:#2a2a2a;opacity:0.32"></div>
<div class="hl" style="left:8px;width:624px;top:524px;background:#2a2a2a;opacity:0.68"></div>
<div class="hl" style="left:8px;width:624px;top:538px;background:#2a2a2a;opacity:0.79"></div>
<div class="hl" style="left:8px;width:624px;top:539px;background:#2a2a2a;opacity:0.21"></div>
<div class="hl" style="left:8px;width:624px;top:552px;background:#2a2a2a;opacity:0.26"></div>
<div class="hl" style="left:8px;width:624px;top:553px;background:#2a2a2a;opacity:0.74"></div>
<div class="hl" style="left:8px;width:624px;top:44px;background:#122a5a;opacity:0.20"></div>
<div class="hl" style="left:8px;width:624px;top:45px;background:#122a5a;opacity:0.80"></div>
<div class="vl" style="left:8px;top:45px;height:58px;background:#173c80;opacity:1.00"></div>
<div class="vl" style="left:8px;top:103px;height:451px;background:#2a2a2a;opacity:1.00"></div>
<div class="vl" style="left:66px;top:45px;height:58px;background:#173c80;opacity:0.95"></div>
<div class="vl" style="left:66px;top:103px;height:451px;background:#2a2a2a;opacity:0.95"></div>
<div class="vl" style="left:67px;top:45px;height:58px;background:#173c80;opacity:0.05"></div>
<div class="vl" style="left:67px;top:103px;height:451px;background:#2a2a2a;opacity:0.05"></div>
<div class="vl" style="left:124px;top:45px;height:58px;background:#173c80;opacity:0.90"></div>
<div class="vl" style="left:124px;top:103px;height:451px;background:#2a2a2a;opacity:0.90"></div>
<div class="vl" style="left:125px;top:45px;height:58px;background:#173c80;opacity:0.10"></div>
<div class="vl" style="left:125px;top:103px;height:451px;background:#2a2a2a;opacity:0.10"></div>
<div class="vl" style="left:218px;top:45px;height:58px;background:#173c80;opacity:1.00"></div>
<div class="vl" style="left:218px;top:103px;height:451px;background:#2a2a2a;opacity:1.00"></div>
<div class="vl" style="left:276px;top:45px;height:58px;background:#173c80;opacity:1.00"></div>
<div class="vl" style="left:276px;top:103px;height:451px;background:#2a2a2a;opacity:1.00"></div>
<div class="vl" style="left:334px;top:45px;height:58px;background:#173c80;opacity:0.40"></div>
<div class="vl" style="left:334px;top:103px;height:451px;background:#2a2a2a;opacity:0.40"></div>
<div class="vl" style="left:335px;top:45px;height:58px;background:#173c80;opacity:0.60"></div>
<div class="vl" style="left:335px;top:103px;height:451px;background:#2a2a2a;opacity:0.60"></div>
<div class="vl" style="left:392px;top:45px;height:58px;background:#173c80;opacity:0.40"></div>
<div class="vl" style="left:392px;top:103px;height:451px;background:#2a2a2a;opacity:0.40"></div>
<div class="vl" style="left:393px;top:45px;height:58px;background:#173c80;opacity:0.60"></div>
<div class="vl" style="left:393px;top:103px;height:451px;background:#2a2a2a;opacity:0.60"></div>
<div class="vl" style="left:450px;top:45px;height:58px;background:#173c80;opacity:0.10"></div>
<div class="vl" style="left:450px;top:103px;height:451px;background:#2a2a2a;opacity:0.10"></div>
<div class="vl" style="left:451px;top:45px;height:58px;background:#173c80;opacity:0.90"></div>
<div class="vl" style="left:451px;top:103px;height:451px;background:#2a2a2a;opacity:0.90"></div>
<div class="vl" style="left:509px;top:45px;height:58px;background:#173c80;opacity:1.00"></div>
<div class="vl" style="left:509px;top:103px;height:451px;background:#2a2a2a;opacity:1.00"></div>
<div class="vl" style="left:631px;top:45px;height:58px;background:#173c80;opacity:1.00"></div>
<div class="vl" style="left:631px;top:103px;height:451px;background:#2a2a2a;opacity:1.00"></div>
<svg class="a" style="left:0;top:0;pointer-events:none" width="640" height="599" viewBox="0 0 640 599"><g transform="translate(10,77) rotate(-29)"><path d="M-88,-2 q6,-10 14,-6 l4,16 q-8,6 -16,2 z" fill="rgba(190,190,200,0.12)"/><text x="-76" y="7" font-size="19" font-weight="bold" fill="none" stroke="rgba(160,160,170,0.13)" stroke-width="0.6" letter-spacing="3">前瞻产业研究院</text><text x="-50" y="17" font-size="5" fill="rgba(170,170,180,0.1)" letter-spacing="1.5">QIANZHAN INDUSTRY RESEARCH</text></g><g transform="translate(313,261) rotate(-33)"><path d="M-88,-2 q6,-10 14,-6 l4,16 q-8,6 -16,2 z" fill="rgba(190,190,200,0.12)"/><text x="-76" y="7" font-size="19" font-weight="bold" fill="none" stroke="rgba(160,160,170,0.13)" stroke-width="0.6" letter-spacing="3">前瞻产业研究院</text><text x="-50" y="17" font-size="5" fill="rgba(170,170,180,0.1)" letter-spacing="1.5">QIANZHAN INDUSTRY RESEARCH</text></g><g transform="translate(551,108) rotate(-33)"><path d="M-88,-2 q6,-10 14,-6 l4,16 q-8,6 -16,2 z" fill="rgba(190,190,200,0.12)"/><text x="-76" y="7" font-size="19" font-weight="bold" fill="none" stroke="rgba(160,160,170,0.13)" stroke-width="0.6" letter-spacing="3">前瞻产业研究院</text><text x="-50" y="17" font-size="5" fill="rgba(170,170,180,0.1)" letter-spacing="1.5">QIANZHAN INDUSTRY RESEARCH</text></g><g transform="translate(68,437) rotate(-33)"><path d="M-88,-2 q6,-10 14,-6 l4,16 q-8,6 -16,2 z" fill="rgba(190,190,200,0.12)"/><text x="-76" y="7" font-size="19" font-weight="bold" fill="none" stroke="rgba(160,160,170,0.13)" stroke-width="0.6" letter-spacing="3">前瞻产业研究院</text><text x="-50" y="17" font-size="5" fill="rgba(170,170,180,0.1)" letter-spacing="1.5">QIANZHAN INDUSTRY RESEARCH</text></g><g transform="translate(468,387) rotate(-33)"><path d="M-88,-2 q6,-10 14,-6 l4,16 q-8,6 -16,2 z" fill="rgba(190,190,200,0.12)"/><text x="-76" y="7" font-size="19" font-weight="bold" fill="none" stroke="rgba(160,160,170,0.13)" stroke-width="0.6" letter-spacing="3">前瞻产业研究院</text><text x="-50" y="17" font-size="5" fill="rgba(170,170,180,0.1)" letter-spacing="1.5">QIANZHAN INDUSTRY RESEARCH</text></g></svg>
<div class="a" style="left:7px;top:573px;font-size:12px;line-height:16px;color:#333;white-space:nowrap;"><span style="letter-spacing:0.6px">资料来源：</span>住建部 前瞻产业研究院整理</div>
<div class="a" style="left:530px;top:573px;font-size:12px;line-height:16px;color:#333;white-space:nowrap;"><span style="display:inline-block;transform:scaleX(1.15);transform-origin:left;margin-right:1.5px">@</span><span style="letter-spacing:0.45px">前瞻经济学人</span>APP</div>
</body></html>
